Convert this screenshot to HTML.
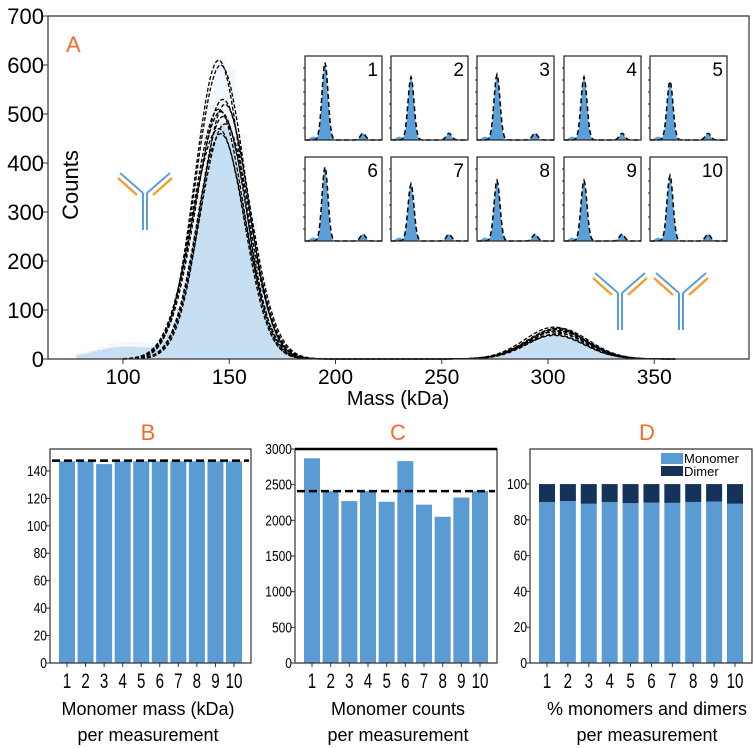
<!DOCTYPE html>
<html><head><meta charset="utf-8"><style>
body{margin:0;background:#fff;}
svg{display:block;font-family:"Liberation Sans",sans-serif;}
</style></head><body>
<svg id="s" width="753" height="748" viewBox="0 0 753 748" xmlns="http://www.w3.org/2000/svg"></svg>
<script>
const S=document.getElementById('s');let h='';
const X=m=>123+(m-100)*2.125, Y=c=>359-c*0.49;
const g=(x,m,s)=>Math.exp(-0.5*((x-m)/s)**2);
for(let m=78;m<350;m+=5){let c=620*g(m+2.5,147,11)+ (m<125?35*g(m,100,15):0)+60*g(m,305,14);
 if(c>1)h+=`<rect x="${X(m)}" y="${Y(c)}" width="${2.125*5}" height="${359-Y(c)}" fill="#f1f7fc"/>`;}
for(let m=78;m<350;m+=2.5){let c=480*g(m+1.25,147,11.5)+(m<125?25*g(m,100,15):0)+48*g(m+1.25,305,14);
 if(c>1)h+=`<rect x="${X(m)}" y="${Y(c)}" width="${2.125*2.5+0.3}" height="${359-Y(c)}" fill="#c7dff2"/>`;}
const pk=[610,600,530,520,510,505,495,480,470,460],dp=[65,62,58,55,60,52,50,57,63,48];
pk.forEach((p,i)=>{let m0=145+(i%4),s=11.2+(i%3)*0.6,d='';
 for(let m=100;m<=360;m+=1){let c=p*g(m,m0,s)+dp[i]*g(m,303+(i%3),14);d+=(m==100?'M':'L')+X(m).toFixed(1)+','+Y(c).toFixed(1);}
 h+=`<path d="${d}" fill="none" stroke="#000" stroke-width="1.3" stroke-dasharray="4,2"/>`;});
h+=`<path d="M48,16H749V359H48Z" fill="none" stroke="#333" stroke-width="1.2"/>`;
[0,100,200,300,400,500,600,700].forEach(v=>{h+=`<line x1="43" x2="48" y1="${Y(v)}" y2="${Y(v)}" stroke="#333"/><text x="44" y="${Y(v)+8}" font-size="22" text-anchor="end">${v}</text>`;});
[100,150,200,250,300,350].forEach(v=>{h+=`<line x1="${X(v)}" x2="${X(v)}" y1="359" y2="364" stroke="#333"/><text x="${X(v)}" y="384" font-size="21" text-anchor="middle">${v}</text>`;});
h+=`<text x="398" y="405" font-size="20" text-anchor="middle">Mass (kDa)</text>`;
h+=`<text transform="translate(78,185) rotate(-90)" font-size="22" text-anchor="middle">Counts</text>`;
h+=`<text x="66" y="52" font-size="22" fill="#f26b2a">A</text>`;
function ab(cx,top,len){let b='#5a9fd8',o='#f0a030';
 h+=`<path d="M${cx-2},${top+20}V${top+20+len}M${cx+2},${top+20}V${top+20+len}" stroke="${b}" stroke-width="2"/>`;
 h+=`<path d="M${cx-2},${top+20}L${cx-25},${top}M${cx+2},${top+20}L${cx+25},${top}" stroke="${b}" stroke-width="2"/>`;
 h+=`<path d="M${cx-8},${top+22}L${cx-27},${top+5}M${cx+8},${top+22}L${cx+27},${top+5}" stroke="${o}" stroke-width="2.5"/>`;}
ab(145,173,37);ab(620,273,37);ab(681,273,37);
const bx=[305,391,477,564,650],by=[56,157],ph=[0.92,0.75,0.78,0.75,0.7,0.88,0.68,0.72,0.72,0.78];
for(let r=0;r<2;r++)for(let c=0;c<5;c++){let i=r*5+c,x0=bx[c],y0=by[r],w=77,hh=84,b=y0+hh;
 let f='M'+x0+','+b,d='';
 for(let k=0;k<=w;k++){let v=ph[i]*hh*g(k,20,2.8)+0.08*hh*g(k,58,2.5)+0.04*hh*g(k,8,3);f+=`L${x0+k},${b-v}`;
  let v2=ph[i]*hh*g(k,20,3)+0.08*hh*g(k,58,2.7);d+=(k?'L':'M')+(x0+k)+','+(b-v2).toFixed(1);}
 h+=`<path d="${f}L${x0+w},${b}Z" fill="#5a9fd8"/><path d="${d}" fill="none" stroke="#000" stroke-width="1.5" stroke-dasharray="5,3"/>`;
 h+=`<rect x="${x0}" y="${y0}" width="${w}" height="${hh}" fill="none" stroke="#222" stroke-width="1.2"/>`;
 for(let t=1;t<7;t++)h+=`<line x1="${x0-2}" x2="${x0}" y1="${b-t*12}" y2="${b-t*12}" stroke="#222"/>`;
 h+=`<text x="${x0+w-4}" y="${y0+20}" font-size="19" text-anchor="end">${i+1}</text>`;}
function panel(L,R,max,ticks,vals,dash,title,tx,l1,l2,stack){
 const yb=663,yt=449,sc=v=>yb-(v/max)*(yb-yt),x1=L+17,step=(R-L-34)/9;
 vals.forEach((v,i)=>{let cx=x1+i*step;h+=`<rect x="${cx-8}" y="${sc(v)}" width="16" height="${yb-sc(v)}" fill="#5b9bd3"/>`;
  if(stack)h+=`<rect x="${cx-8}" y="${sc(100)}" width="16" height="${sc(v)-sc(100)}" fill="#15325a"/>`;
  h+=`<line x1="${cx}" x2="${cx}" y1="${yb}" y2="${yb+4}" stroke="#333"/>`;
  h+=`<text x="${cx}" y="688" font-size="21" text-anchor="middle" transform="translate(${cx},688) scale(0.72,1) translate(${-cx},-688)">${i+1}</text>`;});
 if(dash)h+=`<line x1="${L+2}" x2="${R-2}" y1="${sc(dash)}" y2="${sc(dash)}" stroke="#000" stroke-width="2.5" stroke-dasharray="8,4"/>`;
 h+=`<path d="M${L},${yt}H${R}V${yb}H${L}Z" fill="none" stroke="#333" stroke-width="1.2"/>`;
 ticks.forEach(v=>{h+=`<line x1="${L-4}" x2="${L}" y1="${sc(v)}" y2="${sc(v)}" stroke="#333"/><text x="${L-3}" y="${sc(v)+5}" font-size="15" text-anchor="end" transform="translate(${L-3},0) scale(0.8,1) translate(${-(L-3)},0)">${v}</text>`;});
 h+=`<text x="${tx}" y="440" font-size="22" fill="#f26b2a" text-anchor="middle">${title}</text>`;
 h+=`<text x="${tx}" y="715" font-size="18" text-anchor="middle">${l1}</text><text x="${tx}" y="741" font-size="18" text-anchor="middle">${l2}</text>`;}
panel(50,251,156,[0,20,40,60,80,100,120,140],[147,147,145,147,147,147,147,147,147,147],147.5,'B',148,'Monomer mass (kDa)','per measurement');
panel(295,497,3000,[0,500,1000,1500,2000,2500,3000],[2870,2410,2270,2410,2260,2830,2220,2050,2320,2410],2410,'C',398,'Monomer counts','per measurement');
h+=`<line x1="295" x2="497" y1="449" y2="449" stroke="#000" stroke-width="2.5"/>`;
panel(530,752,119.6,[0,20,40,60,80,100],[90,90.5,89,90,89.3,89.6,89.5,90,90.2,89],0,'D',647,'% monomers and dimers','per measurement',true);
h+=`<rect x="661" y="453" width="22" height="11" fill="#5b9bd3"/><text x="684" y="463" font-size="13">Monomer</text><rect x="661" y="466" width="22" height="10" fill="#15325a"/><text x="684" y="476" font-size="13">Dimer</text>`;
S.innerHTML=h;
</script>
</body></html>
